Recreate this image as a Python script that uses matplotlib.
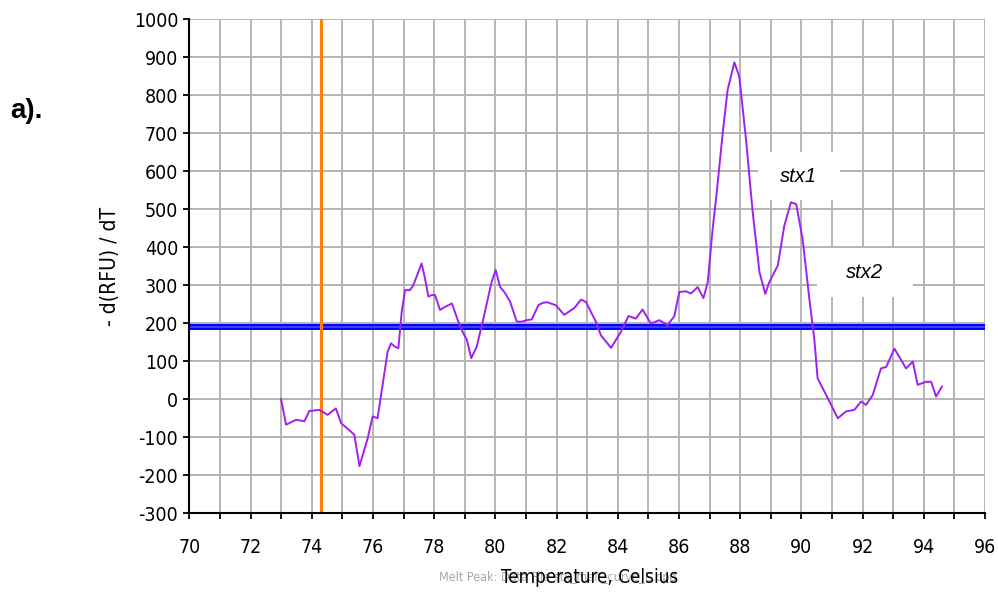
import matplotlib
matplotlib.use("Agg")
import matplotlib.pyplot as plt
from matplotlib.patches import Rectangle
from matplotlib.ticker import MultipleLocator

# melt peak curve
temp = [73.00, 73.16, 73.49, 73.76, 73.92, 74.25, 74.52, 74.79, 74.96, 75.39,
        75.56, 75.83, 75.99, 76.15, 76.48, 76.59, 76.72, 76.83, 76.94, 77.05,
        77.21, 77.32, 77.59, 77.70, 77.81, 77.92, 78.03, 78.19, 78.36, 78.58,
        78.79, 78.90, 79.07, 79.21, 79.39, 79.56, 79.72, 79.88, 80.01, 80.15,
        80.32, 80.48, 80.70, 80.86, 81.03, 81.19, 81.41, 81.57, 81.70, 81.98,
        82.25, 82.58, 82.80, 82.96, 83.29, 83.45, 83.78, 84.10, 84.35, 84.59,
        84.81, 85.08, 85.36, 85.63, 85.85, 86.01, 86.23, 86.39, 86.61, 86.80,
        86.94, 87.10, 87.21, 87.43, 87.59, 87.81, 87.97, 88.19, 88.41, 88.63,
        88.82, 88.95, 89.23, 89.44, 89.66, 89.83, 90.04, 90.26, 90.42, 90.53,
        90.81, 91.19, 91.46, 91.73, 91.95, 92.11, 92.33, 92.60, 92.77, 93.04,
        93.42, 93.64, 93.80, 94.08, 94.24, 94.40, 94.59]
drfu = [0, -67, -54, -58, -31, -28, -41, -24, -63, -93,
        -176, -102, -45, -50, 125, 147, 138, 134, 230, 287,
        287, 300, 357, 318, 270, 274, 274, 235, 243, 252,
        204, 182, 156, 108, 138, 195, 252, 309, 340, 296,
        279, 257, 204, 204, 208, 210, 248, 254, 255, 247,
        222, 240, 262, 256, 203, 168, 135, 177, 219, 212,
        236, 199, 208, 195, 219, 282, 284, 278, 295, 266,
        308, 448, 526, 701, 814, 886, 849, 683, 491, 334,
        277, 308, 352, 456, 518, 513, 421, 264, 160, 55,
        11, -50, -32, -28, -6, -15, 11, 81, 85, 133,
        81, 99, 38, 46, 46, 7, 33]

threshold = 190
marker_temp = 74.3

# peak label boxes: (text, x0, x1, y0, y1)
labels = [("stx1", 88.57, 91.25, 524, 650),
          ("stx2", 90.50, 93.65, 269, 398)]

plt.rcParams['axes.unicode_minus'] = False
narrow = dict(family="DejaVu Sans", stretch="condensed")

fig = plt.figure(figsize=(9.98, 6), dpi=100)
ax = fig.add_axes([0.1897, 0.1445, 0.7973, 0.8238])

ax.set_xlim(70, 96)
ax.set_ylim(-300, 1000)
ax.xaxis.set_major_locator(MultipleLocator(2))
ax.xaxis.set_minor_locator(MultipleLocator(1))
ax.yaxis.set_major_locator(MultipleLocator(100))

ax.grid(True, which="both", color="#b4b4b4", linewidth=1.4)
ax.set_axisbelow(True)

for side in ["top", "right"]:
    ax.spines[side].set_visible(False)
for side in ["left", "bottom"]:
    ax.spines[side].set_linewidth(1.5)
    ax.spines[side].set_zorder(5)

ax.tick_params(which="both", direction="out", length=4, width=1.3)
ax.tick_params(axis="x", pad=14)
ax.tick_params(axis="y", pad=4)
for lab in ax.get_xticklabels() + ax.get_yticklabels():
    lab.set_family(narrow["family"])
    lab.set_stretch(narrow["stretch"])
    lab.set_fontsize(14)

for text, x0, x1, y0, y1 in labels:
    ax.add_patch(Rectangle((x0, y0), x1 - x0, y1 - y0, facecolor="white",
                           edgecolor="none", zorder=1.5))
    ax.text((x0 + x1) / 2, (y0 + y1) / 2, text, ha="center", va="center",
            fontsize=14.5, style="italic", family="Liberation Sans", zorder=2)

ax.axhline(threshold, color="#0000ff", linewidth=4.3, zorder=3)
ax.axhline(threshold, color="#3c3cff", linewidth=1.5, zorder=3)
ax.axvline(marker_temp, color="#ff8000", linewidth=2.2, zorder=3)
ax.plot(temp, drfu, color="#a020f0", linewidth=1.4, zorder=4)

ax.set_ylabel("- d(RFU) / dT", fontsize=15, **narrow)
ax.yaxis.set_label_coords(-0.087, 0.5)

fig.text(0.559, 0.038, "Melt Peak: Data File stx_melt_curve_E.opd", ha="center",
         va="center", fontsize=9, color="#a8a8a8", **narrow)
fig.text(0.591, 0.038, "Temperature, Celsius", ha="center", va="center",
         fontsize=13.5, color="black", **narrow)

fig.text(0.010, 0.803, "a).", fontsize=20, fontweight="bold",
         family="Liberation Sans", va="baseline")

fig.savefig("out.png", dpi=100)
